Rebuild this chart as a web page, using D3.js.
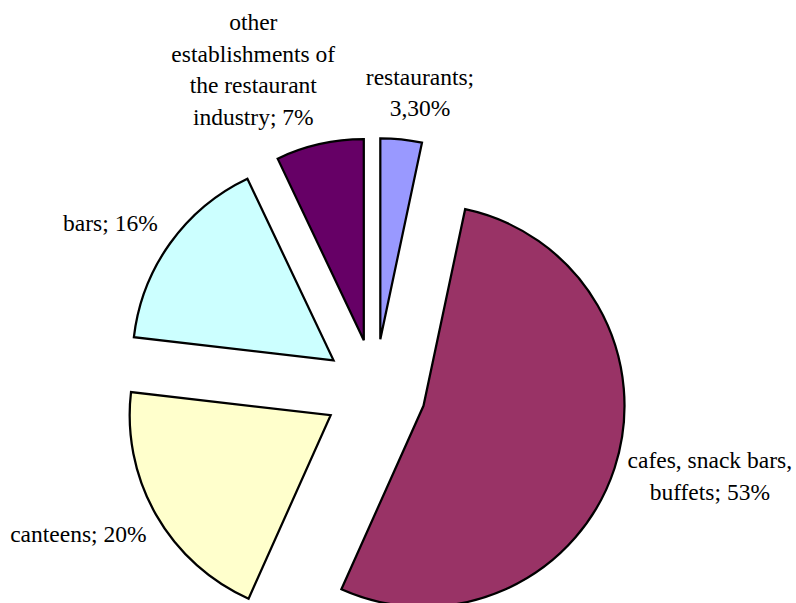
<!DOCTYPE html>
<html>
<head>
<meta charset="utf-8">
<script src="https://cdn.jsdelivr.net/npm/d3@7/dist/d3.min.js"></script>
<style>
  html, body { margin: 0; padding: 0; background: #ffffff; }
  svg { display: block; }
</style>
</head>
<body>
<svg id="chart" width="796" height="603"></svg>
<script>
// Structure of catering establishments, share in %
const categories = ["restaurants", "cafes, snack bars, buffets", "canteens", "bars",
                    "other establishments of the restaurant industry"];
const values = [3.3, 53, 20, 16, 7];
const valueLabels = ["3,30%", "53%", "20%", "16%", "7%"];
// Line breaks of each data label as they wrap
const labelLines = [
  ["restaurants;", "3,30%"],
  ["cafes, snack bars,", "buffets; 53%"],
  ["canteens; 20%"],
  ["bars; 16%"],
  ["other", "establishments of", "the restaurant", "industry; 7%"]
];
const colors = ["#9999FF", "#993366", "#FFFFCC", "#CCFFFF", "#660066"];
// Fine shifts of the label boxes after the outside-end placement
const labelNudge = [[11, 3.5], [-2, -9], [-1, 1], [-5, 0], [-44, 5.5]];

const FONT = "'Liberation Serif', serif";
const FONT_SIZE = "23.5px";
const svg = d3.select("#chart");
const cx = 375, cy = 390;
const radius = 201;
const explode = 51;
const lineHeight = 31.5;
const labelGap = 20;

const pie = d3.pie().sort(null).value(d => d).startAngle(0).endAngle(2 * Math.PI);
const arcs = pie(values);
const arc = d3.arc().innerRadius(0).outerRadius(radius);

const g = svg.append("g").attr("transform", `translate(${cx},${cy})`);

const slices = g.selectAll("g.slice")
  .data(arcs)
  .join("g")
  .attr("class", "slice")
  .attr("transform", d => {
    const a = (d.startAngle + d.endAngle) / 2;
    return `translate(${explode * Math.sin(a)},${-explode * Math.cos(a)})`;
  });

slices.append("path")
  .attr("d", arc)
  .attr("fill", (d, i) => colors[i])
  .attr("stroke", "#000")
  .attr("stroke-width", 2.25)
  .attr("stroke-linejoin", "miter");

// Labels sit outside the end of each slice, box pushed away along the mid-angle
const measure = svg.append("text")
  .style("font-family", FONT).style("font-size", FONT_SIZE)
  .attr("visibility", "hidden");
function textWidth(s) { measure.text(s); return measure.node().getComputedTextLength(); }

arcs.forEach((d, i) => {
  const a = (d.startAngle + d.endAngle) / 2;
  const dx = Math.sin(a), dy = -Math.cos(a);
  const lines = labelLines[i];
  const w = d3.max(lines, textWidth);
  const h = lines.length * lineHeight;
  const rr = explode + radius + labelGap;
  const bx = dx * rr + dx * w / 2 + labelNudge[i][0];
  const by = dy * rr + dy * h / 2 + labelNudge[i][1];
  const t = g.append("text")
    .style("font-family", FONT)
    .style("font-size", FONT_SIZE)
    .attr("fill", "#000")
    .attr("text-anchor", "middle");
  lines.forEach((ln, k) => {
    t.append("tspan")
      .attr("x", bx)
      .attr("y", by - h / 2 + k * lineHeight + lineHeight * 0.78)
      .text(ln);
  });
});
measure.remove();
</script>
</body>
</html>
